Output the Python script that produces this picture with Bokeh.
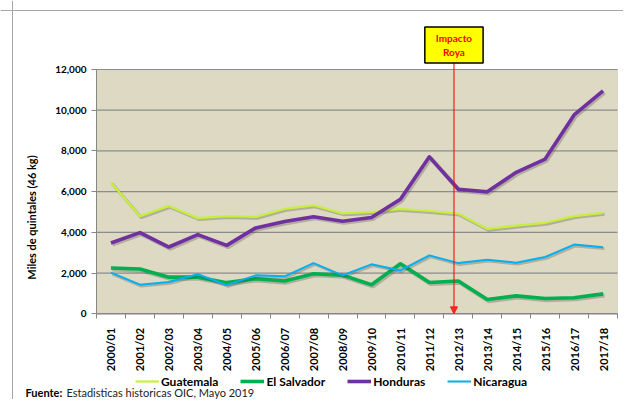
import numpy as np
from bokeh.plotting import figure
from bokeh.models import (ColumnDataSource, FixedTicker, NumeralTickFormatter, Legend,
                          LegendItem, Label, Arrow, NormalHead, Range1d, BoxAnnotation, Span)
from bokeh.transform import dodge
from bokeh.embed import file_html
from bokeh.resources import INLINE

# ---------------- data ----------------
seasons = ["2000/01", "2001/02", "2002/03", "2003/04", "2004/05", "2005/06",
           "2006/07", "2007/08", "2008/09", "2009/10", "2010/11", "2011/12",
           "2012/13", "2013/14", "2014/15", "2015/16", "2016/17", "2017/18"]
guatemala = [6450, 4790, 5300, 4700, 4800, 4760, 5150, 5330, 4930,
             5000, 5150, 5050, 4920, 4170, 4330, 4470, 4800, 4960]
el_salvador = [2250, 2200, 1800, 1800, 1530, 1720, 1610, 1970, 1900,
               1430, 2460, 1540, 1610, 700, 880, 750, 790, 980]
honduras = [3480, 3990, 3280, 3890, 3360, 4220, 4530, 4770, 4550,
            4730, 5630, 7710, 6120, 5990, 6950, 7600, 9770, 10950]
nicaragua = [2020, 1430, 1560, 1940, 1410, 1890, 1840, 2490, 1890,
             2430, 2130, 2870, 2490, 2660, 2510, 2790, 3400, 3270]
series_names = ["Guatemala", "El Salvador", "Honduras", "Nicaragua"]
y_ticks = [0, 2000, 4000, 6000, 8000, 10000, 12000]
impact_season = "2012/13"
impact_text = "Impacto\nRoya"
y_title = "Miles de quintales (46 kg)"
source_bold = "Fuente:"
source_text = "Estadisticas historicas OIC, Mayo 2019"

# ---------------- layout (pixels inside the figure) ----------------
FIG_W, FIG_H = 623, 399
PL, PR, PT, PB = 96, 617, 69, 313.3      # plot-area edges
n = len(seasons)
y_top = y_ticks[-1]
sx = (PR - PL) / n
sy = (PB - PT) / y_top
x_start, x_end = -PL / sx, n + (FIG_W - PR) / sx
y_start, y_end = -(FIG_H - PB) / sy, y_top + PT / sy

def px_x(px):
    return x_start + px / sx

def px_y(py):
    return y_end - py / sy

x = (np.arange(n) + 0.5).tolist()
src = ColumnDataSource(dict(x=x, Guatemala=guatemala, ElSalvador=el_salvador,
                            Honduras=honduras, Nicaragua=nicaragua))
cols = ["Guatemala", "ElSalvador", "Honduras", "Nicaragua"]
colors = ["#c8f03a", "#00b050", "#7030a0", "#00b0f0"]
widths = [2.2, 3.6, 3.6, 2.0]

p = figure(width=FIG_W, height=FIG_H, output_backend="svg", toolbar_location=None,
           x_range=Range1d(x_start, x_end), y_range=Range1d(y_start, y_end),
           min_border=0)
p.background_fill_color = "white"
p.border_fill_color = "white"
p.outline_line_color = None

GRAY = "#868686"
FONT = "Lato"

# outer chart border (left and top)
p.add_layout(Span(location=px_x(12), dimension="height", line_color="#a6a6a6", line_width=1))
p.add_layout(Span(location=px_y(10), dimension="width", line_color="#a6a6a6", line_width=1))

# plot area
p.add_layout(BoxAnnotation(left=0, right=n, bottom=y_ticks[0], top=y_top,
                           fill_color="#ddd9c3", fill_alpha=1.0, line_color="#a8a8a8",
                           line_width=1, level="image"))
p.xgrid.visible = False
p.ygrid.visible = False
p.segment(x0=0, x1=n, y0=y_ticks, y1=y_ticks, line_color="#8c8c8c", line_width=1.2)

xa = p.xaxis[0]
xa.fixed_location = 0
xa.bounds = (0, n)
xa.ticker = FixedTicker(ticks=x, minor_ticks=list(range(n + 1)))
xa.major_label_overrides = {float(v): s for v, s in zip(x, seasons)}
xa.major_label_orientation = np.pi / 2
xa.major_tick_in = 0
xa.major_tick_out = 0
xa.minor_tick_in = 0
xa.minor_tick_out = 5
xa.minor_tick_line_color = GRAY
xa.axis_line_color = GRAY
xa.major_label_standoff = 9
xa.major_label_text_font = FONT
xa.major_label_text_font_style = "bold"
xa.major_label_text_font_size = "11px"
xa.major_label_text_color = "black"

ya = p.yaxis[0]
ya.fixed_location = 0
ya.bounds = (y_ticks[0], y_top)
ya.ticker = FixedTicker(ticks=y_ticks)
ya.formatter = NumeralTickFormatter(format="0,0")
ya.minor_tick_line_color = None
ya.major_tick_in = 0
ya.major_tick_out = 5
ya.major_tick_line_color = GRAY
ya.axis_line_color = GRAY
ya.major_label_standoff = 5
ya.major_label_text_font = FONT
ya.major_label_text_font_style = "bold"
ya.major_label_text_font_size = "10px"
ya.major_label_text_color = "black"

items = []
for name, col, c, w in zip(series_names, cols, colors, widths):
    p.line(x=dodge("x", 0.05), y=dodge(col, -70), source=src, line_color="#404040",
           line_alpha=0.28, line_width=w + 0.8, line_join="round")
    r = p.line(x="x", y=col, source=src, line_color=c, line_width=w, line_join="round")
    items.append(LegendItem(label=name, renderers=[r]))

# impact annotation
ix = seasons.index(impact_season) + 0.35
p.add_layout(Arrow(x_start=ix, y_start=px_y(62), x_end=ix, y_end=y_ticks[0],
                   line_color="#ff0000", line_alpha=0.7, line_width=1.5,
                   end=NormalHead(size=7, fill_color="#ff0000", line_color="#ff0000",
                                  fill_alpha=0.8, line_alpha=0.8)))
p.add_layout(Label(x=ix, y=FIG_H - 44.5, x_units="data", y_units="screen", text=impact_text,
                   text_align="center", text_baseline="middle", text_font=FONT,
                   text_font_style="bold", text_font_size="10px", text_color="#ff0000",
                   text_line_height=1.15, background_fill_color="#ffff00",
                   border_line_color="black", border_line_width=1.5, padding=(11, 5)))

# y-axis title
p.add_layout(Label(x=31, y=FIG_H - 217, x_units="screen", y_units="screen", text=y_title,
                   angle=np.pi / 2, text_align="center", text_baseline="middle",
                   text_font=FONT, text_font_style="bold", text_font_size="11px",
                   text_color="black"))

legend = Legend(items=items, orientation="horizontal", location=(135, FIG_H - 388.5),
                glyph_width=24, glyph_height=14, label_height=14, label_standoff=2,
                spacing=22, padding=0, margin=0, border_line_color=None,
                background_fill_alpha=0, label_text_font=FONT,
                label_text_font_style="bold", label_text_font_size="12px",
                label_text_color="black")
p.add_layout(legend)

# source note
p.add_layout(Label(x=25, y=FIG_H - 391.5, x_units="screen", y_units="screen", text=source_bold,
                   text_align="left", text_baseline="middle", text_font=FONT,
                   text_font_style="bold", text_font_size="11px", text_color="black"))
p.add_layout(Label(x=66, y=FIG_H - 391.5, x_units="screen", y_units="screen", text=source_text,
                   text_align="left", text_baseline="middle", text_font=FONT,
                   text_font_size="11px", text_color="#222222"))

open("out.html", "w").write(file_html(p, INLINE))
